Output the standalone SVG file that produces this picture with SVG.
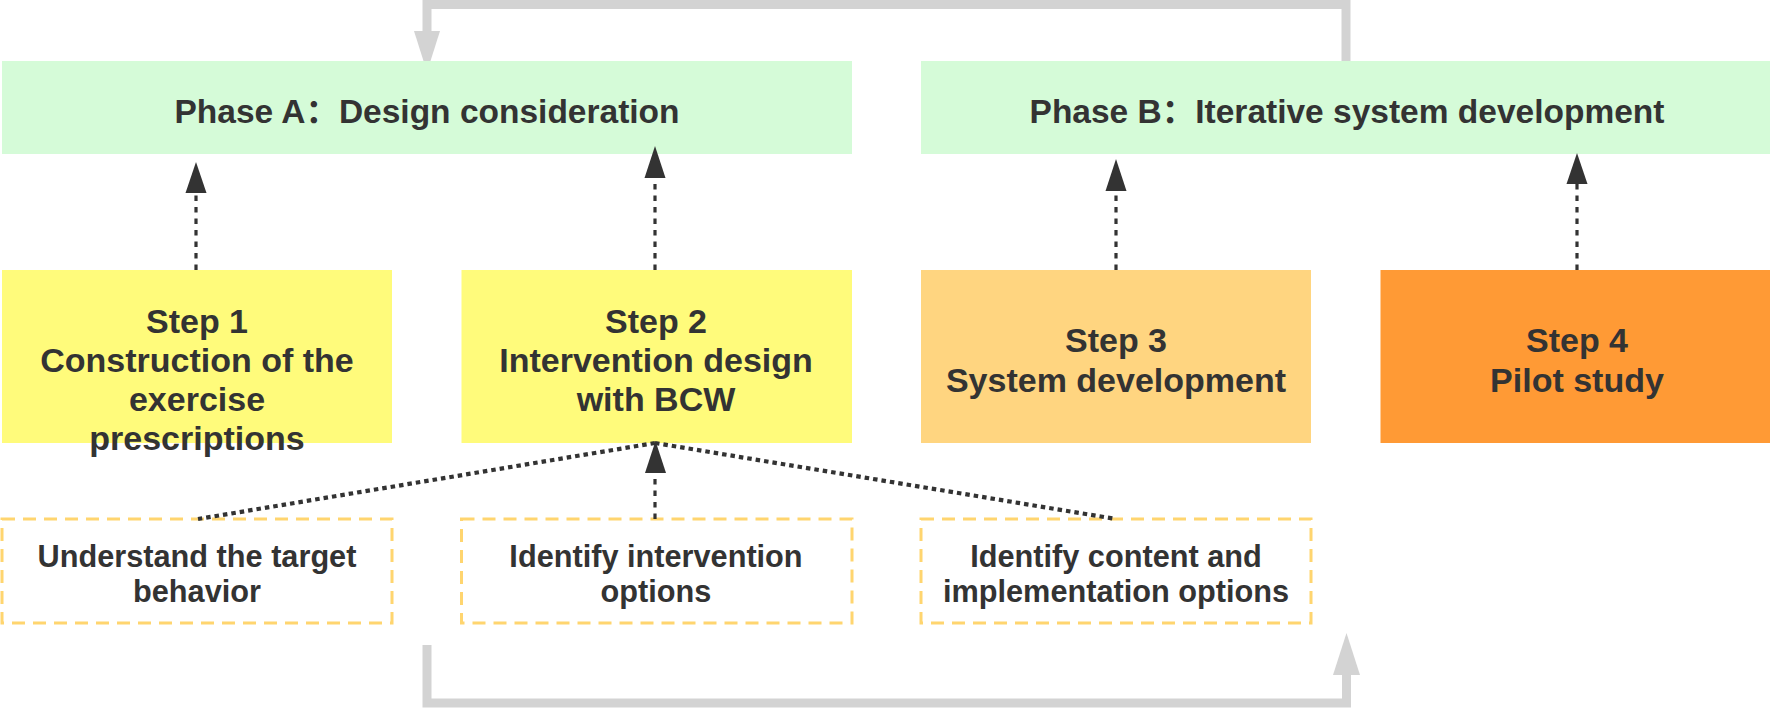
<svg xmlns="http://www.w3.org/2000/svg" width="1770" height="708" viewBox="0 0 1770 708">
<defs>
<style>
.t{font-family:"Liberation Sans","Noto Sans CJK SC",sans-serif;font-weight:700;fill:#333333;text-anchor:middle}
.ph{font-size:33.5px}
.st{font-size:34px}
.bx{font-size:30.7px}
.phase{fill:#D5FBD8}
.dbox{fill:#FFFFFF;stroke:#FFD56F;stroke-width:3;stroke-dasharray:13 8}
.gray{fill:none;stroke:#D3D3D3;stroke-width:9}
.dash{fill:none;stroke:#333333;stroke-width:3.2;stroke-dasharray:5.5 6}
.dot{fill:none;stroke:#333333;stroke-width:4.2;stroke-dasharray:4.5 4}
.ah{fill:#333333}
.gh{fill:#D3D3D3}
</style>
</defs>
<rect width="1770" height="708" fill="#FFFFFF"/>
<g id="connectors">
<polyline class="gray" points="1346,61 1346,4.5 427,4.5 427,34"/>
<polygon class="gh" points="414,31 440,31 427,72"/>
<polyline class="gray" points="427,645 427,703 1346.5,703 1346.5,672"/>
<polygon class="gh" points="1333,675 1360,675 1346.5,633"/>
</g>
<g id="phaseA"><rect class="phase" x="2" y="61" width="850" height="93"/><text class="t ph" x="427" y="123">Phase A：Design consideration</text></g>
<g id="phaseB"><rect class="phase" x="921" y="61" width="849" height="93"/><text class="t ph" x="1347" y="123">Phase B：Iterative system development</text></g>
<g id="step1"><rect x="2" y="270" width="390" height="173" fill="#FFFB7B"/>
<text class="t st" x="197" y="333">Step 1</text><text class="t st" x="197" y="372">Construction of the</text><text class="t st" x="197" y="411">exercise</text><text class="t st" x="197" y="450">prescriptions</text></g>
<g id="step2"><rect x="461.5" y="270" width="390.5" height="173" fill="#FFFB7B"/>
<text class="t st" x="656" y="333">Step 2</text><text class="t st" x="656" y="372">Intervention design</text><text class="t st" x="656" y="411">with BCW</text></g>
<g id="step3"><rect x="921" y="270" width="390" height="173" fill="#FFD580"/>
<text class="t st" x="1116" y="352">Step 3</text><text class="t st" x="1116" y="392">System development</text></g>
<g id="step4"><rect x="1380.5" y="270" width="389.5" height="173" fill="#FF9A35"/>
<text class="t st" x="1577" y="352">Step 4</text><text class="t st" x="1577" y="392">Pilot study</text></g>
<g id="box1"><rect class="dbox" x="2" y="519" width="390" height="104"/>
<text class="t bx" x="197" y="567">Understand the target</text><text class="t bx" x="197" y="602">behavior</text></g>
<g id="box2"><rect class="dbox" x="461.5" y="519" width="390.5" height="104"/>
<text class="t bx" x="656" y="567">Identify intervention</text><text class="t bx" x="656" y="602">options</text></g>
<g id="box3"><rect class="dbox" x="921" y="519" width="390" height="104"/>
<text class="t bx" x="1116" y="567">Identify content and</text><text class="t bx" x="1116" y="602">implementation options</text></g>
<g id="arrows">
<line class="dash" x1="196" y1="270" x2="196" y2="193"/><polygon class="ah" points="185.5,193 206.5,193 196,162"/>
<line class="dash" x1="655" y1="270" x2="655" y2="178"/><polygon class="ah" points="644.5,178 665.5,178 655,146"/>
<line class="dash" x1="1116" y1="270" x2="1116" y2="191"/><polygon class="ah" points="1105.5,191 1126.5,191 1116,159"/>
<line class="dash" x1="1577" y1="270" x2="1577" y2="184"/><polygon class="ah" points="1566.5,184 1587.5,184 1577,153"/>
<line class="dash" x1="655" y1="519" x2="655" y2="473"/><polygon class="ah" points="645,473 666,473 655.5,441"/>
<line class="dot" x1="655" y1="443" x2="198" y2="519"/>
<line class="dot" x1="655" y1="443" x2="1116" y2="519"/>
</g>
</svg>
